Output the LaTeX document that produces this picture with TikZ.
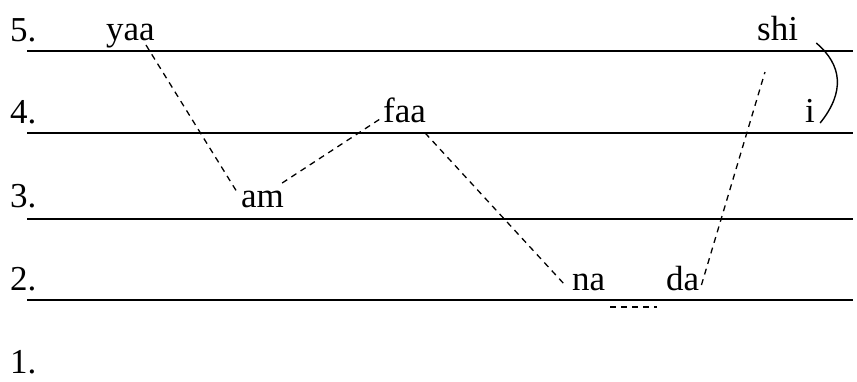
\documentclass[tikz,border=0pt]{standalone}
\usepackage{fontspec}
\setmainfont{Liberation Serif}
\usetikzlibrary{calc}
\begin{document}
\begin{tikzpicture}[x=1pt,y=-1pt,
  txt/.style={inner sep=0pt,anchor=base west,font=\fontsize{35}{40}\selectfont},
  staff/.style={line width=1.6pt},
  link/.style={line width=1.3pt,dash pattern=on 6pt off 5pt}]
\useasboundingbox (0,0) rectangle (857,381);
% staff lines
\draw[staff] (27,51) -- (853,51);
\draw[staff] (27,133) -- (853,133);
\draw[staff] (27,219) -- (853,219);
\draw[staff] (27,300) -- (853,300);
% level labels
\node[txt] (l5) at (10,41) {5.};
\node[txt] (l4) at (10,123) {4.};
\node[txt] (l3) at (10,207) {3.};
\node[txt] (l2) at (10,290) {2.};
\node[txt] (l1) at (10,373) {1.};
% syllables
\node[txt] (yaa) at (106,40) {yaa};
\node[txt] (am) at (241,207) {am};
\node[txt] (faa) at (383,122) {faa};
\node[txt] (na) at (572,290) {na};
\node[txt] (da) at (666,290) {da};
\node[txt] (shi) at (757,40) {shi};
\node[txt] (i) at (805,122) {i};
% connectors
\draw[link] ($(yaa.base east)+(-9,5)$) -- ($(am.base west)+(-4,-15)$);
\draw[link] ($(am.base east)+(-2,-24)$) -- ($(faa.base west)+(-3,-3)$);
\draw[link] ($(faa.base east)+(-1,11)$) -- ($(na.base west)+(-7,-5)$);
\draw[link] ($(na.base east)+(5,17)$) -- ($(da.base west)+(-9,17)$);
\draw[link] ($(da.base east)+(2,-5)$) -- ($(shi.base west)+(8,32)$);
\draw[line width=1.4pt] ($(shi.base east)+(18,3)$) .. controls ($(shi.base east)+(44,25)$) and ($(i.base east)+(30,-30)$) .. ($(i.base east)+(5,1)$);
\end{tikzpicture}
\end{document}
